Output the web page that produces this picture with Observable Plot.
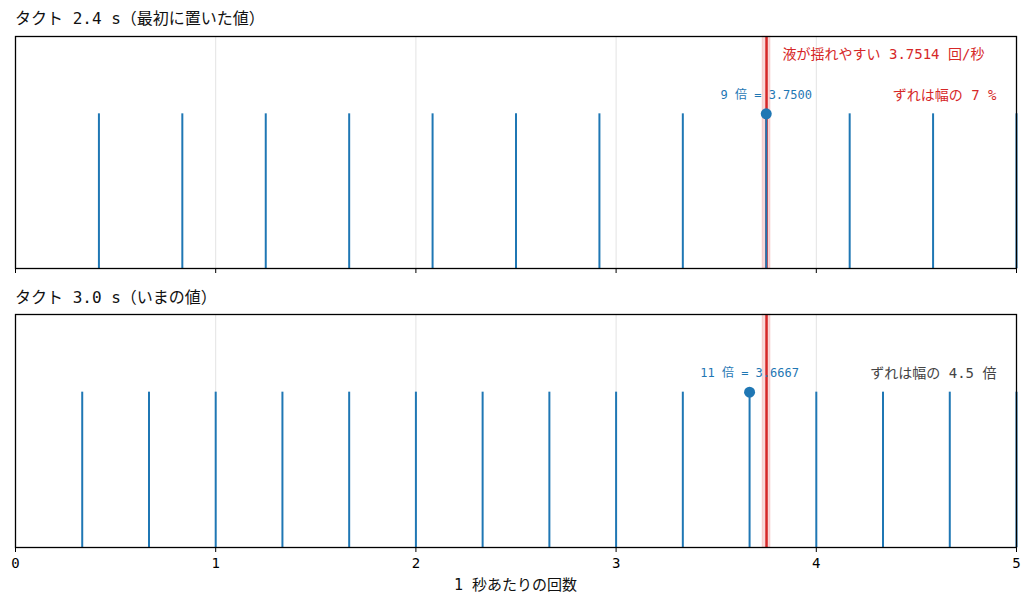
<!DOCTYPE html>
<html><head><meta charset="utf-8">
<script src="https://cdn.jsdelivr.net/npm/d3@7"></script>
<script src="https://cdn.jsdelivr.net/npm/@observablehq/plot@0.6"></script>
<style>
body{margin:0;background:#fff;font-family:"DejaVu Sans Mono","Noto Sans CJK JP",sans-serif;}
#wrap{position:relative;width:1031px;height:605px;}
.ttl{position:absolute;left:15px;font-size:16px;color:#111;white-space:nowrap;line-height:20px;}
.xl{position:absolute;left:0;width:1031px;text-align:center;font-size:15px;color:#111;line-height:20px;}
.pl{position:absolute;left:0;}
</style></head>
<body><div id="wrap"></div>
<script>
const titles = ["タクト 2.4 s（最初に置いた値）", "タクト 3.0 s（いまの値）"];
const topFreqs = [0.4167, 0.8333, 1.25, 1.6667, 2.0833, 2.5, 2.9167, 3.3333, 3.75, 4.1667, 4.5833, 5.0];
const bottomFreqs = [0.3333, 0.6667, 1.0, 1.3333, 1.6667, 2.0, 2.3333, 2.6667, 3.0, 3.3333, 3.6667, 4.0, 4.3333, 4.6667, 5.0];
const slosh = 3.7514;
const bandHalf = 0.02;
const topNearest = {x: 3.75, label: "9 倍 = 3.7500"};
const bottomNearest = {x: 3.6667, label: "11 倍 = 3.6667"};
const sloshLabel = "液が揺れやすい 3.7514 回/秒";
const topNote = "ずれは幅の 7 %";
const bottomNote = "ずれは幅の 4.5 倍";
const xTicks = [0, 1, 2, 3, 4, 5];
const gridTicks = [1, 2, 3, 4];
const xLabel = "1 秒あたりの回数";

const blue = "#1f77b4", red = "#d62728";
const font = `"DejaVu Sans Mono","Noto Sans CJK JP",sans-serif`;
const wrap = document.getElementById("wrap");

function panel(freqs, nearest, isTop) {
  const marks = [
    Plot.ruleX(gridTicks, {stroke: "#e3e3e3", strokeWidth: 1}),
    Plot.rect([slosh], {x1: d => d - bandHalf, x2: d => d + bandHalf, y1: 0, y2: 1.5, fill: red, fillOpacity: 0.18, stroke: red, strokeOpacity: 0.12, strokeWidth: 1}),
    Plot.ruleX([slosh], {y1: 0, y2: 1.5, stroke: red, strokeWidth: 2.5}),
    Plot.ruleX(freqs, {y1: 0, y2: 1, stroke: blue, strokeWidth: 2}),
    Plot.dot([nearest], {x: "x", y: 1, r: 5.5, fill: blue}),
    Plot.text([nearest], {x: "x", y: 1.12, text: "label", fill: blue, fontSize: 12, textAnchor: "middle"}),
    Plot.text([isTop ? topNote : bottomNote], {x: 4.9, y: 1.12, text: d => d, fill: isTop ? red : "#444", fontSize: 14, textAnchor: "end"}),
    Plot.frame({stroke: "#000", strokeWidth: 1.3})
  ];
  if (isTop) marks.push(Plot.text([sloshLabel], {x: slosh + 0.08, y: 1.385, text: d => d, fill: red, fontSize: 14, textAnchor: "start"}));
  marks.push(Plot.axisX(xTicks, {tickSize: 5, tickFormat: isTop ? () => "" : d => String(d), fontSize: 14, label: null, tickPadding: 6}));
  return Plot.plot({
    width: 1031,
    height: isTop ? 248 : 289,
    marginLeft: 15, marginRight: 15, marginTop: 6, marginBottom: isTop ? 10 : 50,
    x: {domain: [0, 5]},
    y: {domain: [0, 1.5], axis: null},
    style: {fontFamily: font, fontSize: "14px", color: "#000", background: "transparent", overflow: "visible"},
    marks
  });
}

function add(el, top, cls) { el.classList.add(cls); el.style.top = top + "px"; wrap.appendChild(el); }
const t1 = document.createElement("div"); t1.className = "ttl"; t1.textContent = titles[0]; t1.style.top = "9px"; wrap.appendChild(t1);
add(panel(topFreqs, topNearest, true), 30, "pl");
const t2 = document.createElement("div"); t2.className = "ttl"; t2.textContent = titles[1]; t2.style.top = "288px"; wrap.appendChild(t2);
add(panel(bottomFreqs, bottomNearest, false), 308, "pl");
const xl = document.createElement("div"); xl.className = "xl"; xl.textContent = xLabel; xl.style.top = "575px"; wrap.appendChild(xl);
</script></body></html>
